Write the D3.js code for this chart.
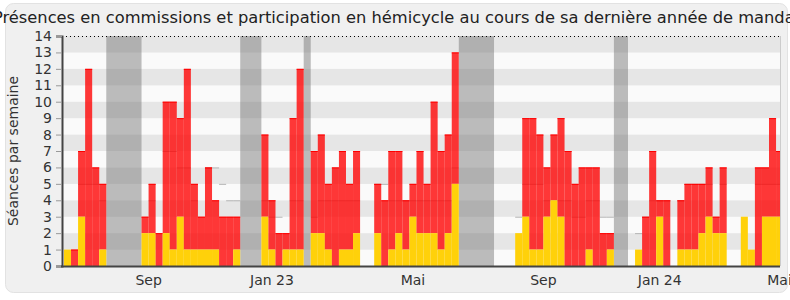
<!DOCTYPE html>
<html>
<head>
<meta charset="utf-8">
<script src="https://cdn.jsdelivr.net/npm/d3@7"></script>
<style>
  body { margin: 0; background: #fff; }
  svg { display: block; font-family: 'DejaVu Sans', sans-serif; }
</style>
</head>
<body>
<svg class="chart"></svg>
<script>
// one value per week, oldest first
const commissions = [
  0, 1, 4, 12, 6, 4, 0, 0, 0, 0,
  0, 1, 3, 2, 8, 9, 6, 11, 4, 2,
  5, 3, 3, 3, 2, 0, 0, 0, 5, 3,
  2, 1, 8, 11, 0, 5, 6, 4, 6, 6,
  4, 5, 0, 0, 3, 4, 6, 5, 3, 2,
  5, 3, 8, 6, 6, 8, 0, 0, 0, 0,
  0, 0, 0, 0, 0, 6, 8, 7, 3, 4,
  6, 7, 5, 6, 5, 6, 2, 1, 0, 0,
  0, 0, 3, 7, 1, 4, 0, 3, 4, 4,
  3, 3, 1, 4, 0, 0, 0, 0, 6, 3,
  6, 4
];
const hemicycle = [
  1, 0, 3, 0, 0, 1, 0, 0, 0, 0,
  0, 2, 2, 0, 2, 1, 3, 1, 1, 1,
  1, 1, 0, 0, 1, 0, 0, 0, 3, 1,
  0, 1, 1, 1, 0, 2, 2, 1, 0, 1,
  1, 2, 0, 0, 2, 0, 1, 2, 1, 3,
  2, 2, 2, 1, 2, 5, 0, 0, 0, 0,
  0, 0, 0, 0, 2, 3, 1, 1, 3, 4,
  3, 0, 0, 0, 1, 0, 0, 1, 0, 0,
  0, 1, 0, 0, 3, 0, 0, 1, 1, 1,
  2, 3, 2, 2, 0, 0, 3, 1, 0, 3,
  3, 3
];
// median of all deputies (gray line), null where not drawn
const median = [
  null, null, 5, 5, 5, 4, null, null, null, null,
  null, null, 4, null, 7, 7, 6, 6, 4, null,
  6, 6, 5, 4, 4, null, null, null, 4, 3,
  3, null, 4, 4, null, 3, 4, 4, 4, 4,
  4, 4, null, null, 5, 5, 4, 4, 4, 4,
  4, 4, 4, 4, 4, 6, null, null, null, null,
  null, null, null, null, 3, 5, 5, 5, 4, 4,
  4, 4, 3, 3, 4, 4, 3, 3, null, null,
  null, 2, 3, 4, 4, 4, null, 4, 5, 5,
  5, 5, null, 5, null, null, null, null, 5, 5,
  5, 5
];
// parliamentary breaks [first week, week after]
const vacations = [[6, 11], [25, 28], [34, 35], [56, 61], [78, 80]];

const tickLabels = ['Sep', 'Jan 23', 'Mai', 'Sep', 'Jan 24', 'Mai'];
const tickWeeks = [12, 29.5, 49.5, 68, 84.5, 101.5];

const width = 790, height = 300;
const margin = { top: 36, right: 10, bottom: 34, left: 62 };

const weeks = commissions.map((c, i) => ({
  i: i,
  comm: c,
  hemi: hemicycle[i],
  median: median[i]
}));

const x = d3.scaleLinear()
  .domain([-0.28, 101.56])
  .range([margin.left, width - margin.right]);
const y = d3.scaleLinear()
  .domain([0, 14])
  .range([height - margin.bottom, margin.top]);

const svg = d3.select('svg.chart')
  .attr('width', width)
  .attr('height', height);

// panel
svg.append('rect')
  .attr('x', 5.5).attr('y', 3.5)
  .attr('width', 782).attr('height', 289)
  .attr('rx', 8)
  .style('fill', '#f0f0f0')
  .style('stroke', '#e2e2e2');

svg.append('clipPath').attr('id', 'plot')
  .append('rect')
  .attr('x', margin.left).attr('y', margin.top)
  .attr('width', width - margin.right - margin.left)
  .attr('height', y(0) - y(14));

const plot = svg.append('g').attr('clip-path', 'url(#plot)');

// stripes
plot.selectAll('rect.stripe').data(d3.range(0, 14))
  .enter().append('rect').attr('class', 'stripe')
  .attr('x', margin.left)
  .attr('y', d => y(d + 1))
  .attr('width', width - margin.right - margin.left)
  .attr('height', d => y(d) - y(d + 1))
  .style('fill', d => d % 2 ? '#e6e6e6' : '#fafafa');

// vacations
plot.selectAll('rect.vac').data(vacations)
  .enter().append('rect').attr('class', 'vac')
  .attr('x', d => x(d[0]))
  .attr('y', y(14))
  .attr('width', d => x(d[1]) - x(d[0]))
  .attr('height', y(0) - y(14))
  .style('fill', 'rgba(110,110,110,0.45)');

// median segments
plot.selectAll('line.median').data(weeks.filter(d => d.median !== null))
  .enter().append('line').attr('class', 'median')
  .attr('x1', d => x(d.i))
  .attr('x2', d => x(d.i + 1))
  .attr('y1', d => y(d.median) + 0.5)
  .attr('y2', d => y(d.median) + 0.5)
  .style('stroke', '#b4b4b4')
  .style('stroke-width', 1);

const bars = plot.selectAll('g.week').data(weeks)
  .enter().append('g').attr('class', 'week');

bars.filter(d => d.comm > 0).append('rect')
  .attr('x', d => x(d.i))
  .attr('y', d => y(d.hemi + d.comm))
  .attr('width', d => x(d.i + 1) - x(d.i))
  .attr('height', d => y(d.hemi) - y(d.hemi + d.comm))
  .style('fill', 'rgba(255,0,0,0.78)');

bars.filter(d => d.comm > 0).append('line')
  .attr('x1', d => x(d.i))
  .attr('x2', d => x(d.i + 1))
  .attr('y1', d => y(d.hemi + d.comm) + 0.5)
  .attr('y2', d => y(d.hemi + d.comm) + 0.5)
  .style('stroke', '#f00')
  .style('stroke-width', 1);

bars.filter(d => d.hemi > 0).append('rect')
  .attr('x', d => x(d.i))
  .attr('y', d => y(d.hemi))
  .attr('width', d => x(d.i + 1) - x(d.i))
  .attr('height', d => y(0) - y(d.hemi))
  .style('fill', '#ffd10a');

// top dotted line and right border
svg.append('line')
  .attr('x1', margin.left).attr('x2', width - margin.right)
  .attr('y1', y(14) + 0.5).attr('y2', y(14) + 0.5)
  .style('stroke', '#000')
  .style('stroke-dasharray', '1,3');
svg.append('line')
  .attr('x1', width - margin.right + 0.5).attr('x2', width - margin.right + 0.5)
  .attr('y1', y(14)).attr('y2', y(0))
  .style('stroke', '#ccc');

// y axis
const yAxis = svg.append('g')
  .attr('transform', `translate(${margin.left},0)`)
  .call(d3.axisLeft(y).ticks(14).tickSize(6).tickPadding(4));
yAxis.select('.domain').style('stroke', '#444').style('stroke-width', 2);
yAxis.selectAll('.tick line').style('stroke', '#999');
yAxis.selectAll('.tick text')
  .style('font-size', '14px')
  .style('fill', '#333')
  .style('font-family', "'DejaVu Sans', sans-serif");

// x axis
svg.append('line')
  .attr('x1', margin.left - 1).attr('x2', width - margin.right)
  .attr('y1', y(0) + 0.5).attr('y2', y(0) + 0.5)
  .style('stroke', '#444')
  .style('stroke-width', 2);

svg.selectAll('text.xlab').data(tickLabels)
  .enter().append('text').attr('class', 'xlab')
  .attr('x', (d, i) => x(tickWeeks[i]))
  .attr('y', 285)
  .attr('text-anchor', 'middle')
  .style('font-size', '14px')
  .style('fill', '#333')
  .text(d => d);

svg.append('text')
  .attr('transform', `translate(18,${(y(0) + y(14)) / 2}) rotate(-90)`)
  .attr('text-anchor', 'middle')
  .style('font-size', '14px')
  .style('fill', '#333')
  .text('Séances par semaine');

svg.append('text')
  .attr('x', width / 2 + 2)
  .attr('y', 23)
  .attr('text-anchor', 'middle')
  .style('font-size', '16.3px')
  .style('fill', '#222')
  .text('Présences en commissions et participation en hémicycle au cours de sa dernière année de mandat');
</script>
</body>
</html>
